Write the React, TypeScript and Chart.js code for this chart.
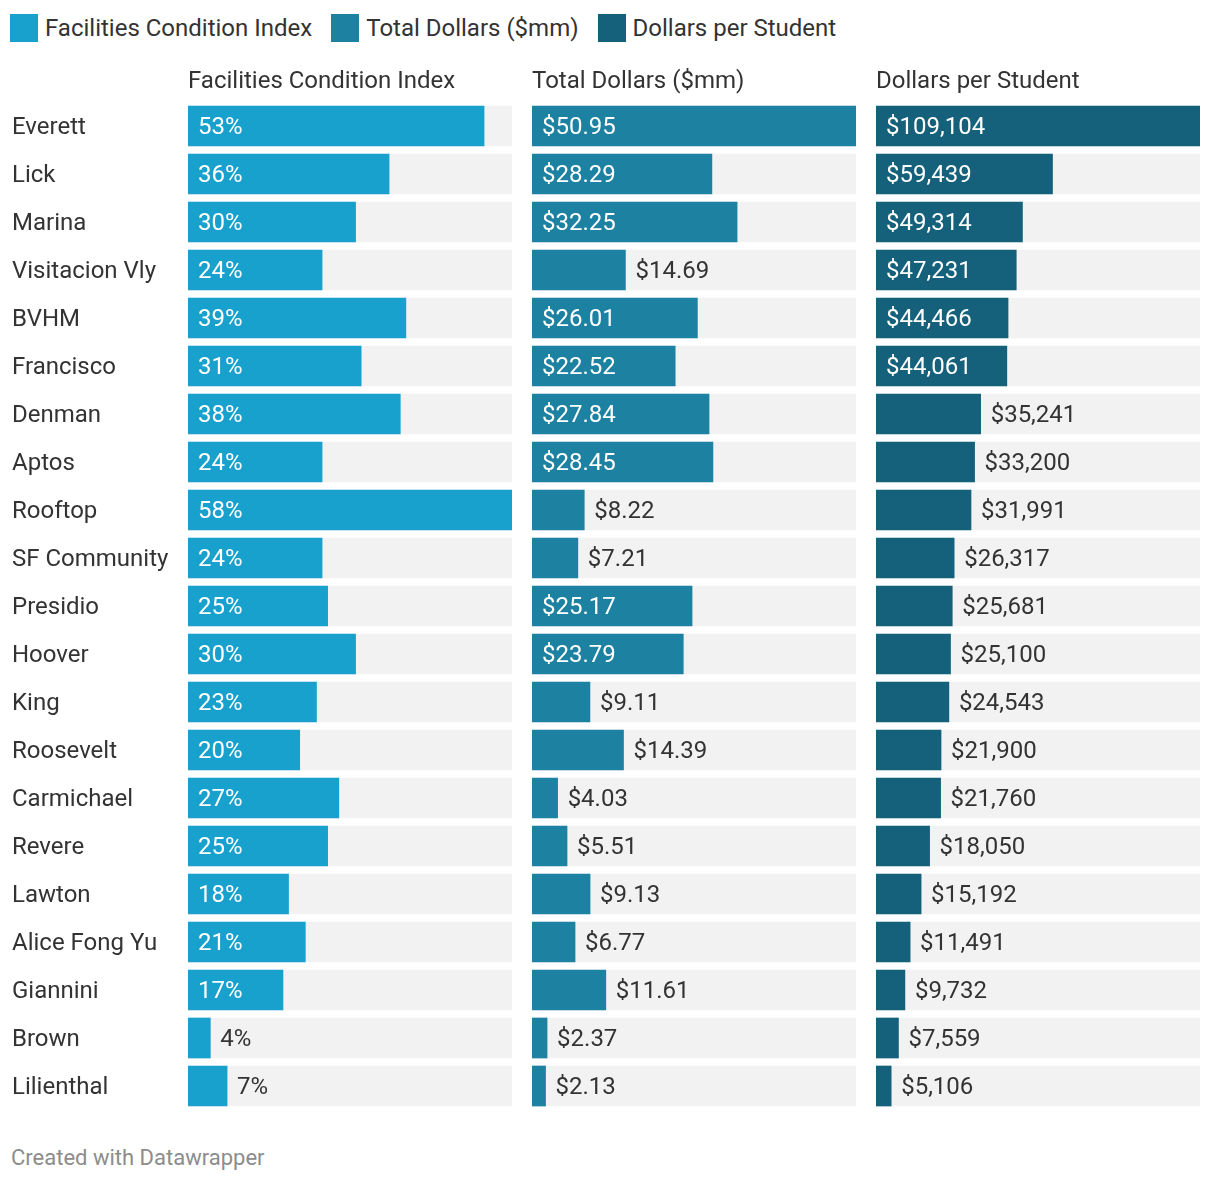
import React, { useEffect, useRef } from "react";
import { Chart, registerables } from "chart.js";

Chart.register(...registerables);

const categories = [
  "Everett", "Lick", "Marina", "Visitacion Vly", "BVHM", "Francisco", "Denman",
  "Aptos", "Rooftop", "SF Community", "Presidio", "Hoover", "King", "Roosevelt",
  "Carmichael", "Revere", "Lawton", "Alice Fong Yu", "Giannini", "Brown", "Lilienthal",
];

const fciValues = [53, 36, 30, 24, 39, 31, 38, 24, 58, 24, 25, 30, 23, 20, 27, 25, 18, 21, 17, 4, 7];

const totalDollars = [
  50.95, 28.29, 32.25, 14.69, 26.01, 22.52, 27.84, 28.45, 8.22, 7.21, 25.17,
  23.79, 9.11, 14.39, 4.03, 5.51, 9.13, 6.77, 11.61, 2.37, 2.13,
];

const dollarsPerStudent = [
  109104, 59439, 49314, 47231, 44466, 44061, 35241, 33200, 31991, 26317, 25681,
  25100, 24543, 21900, 21760, 18050, 15192, 11491, 9732, 7559, 5106,
];

const seriesNames = ["Facilities Condition Index", "Total Dollars ($mm)", "Dollars per Student"];
const seriesColors = ["#18a1cd", "#1d81a2", "#15607a"];
const TRACK = "#f2f2f2";
const TEXT = "#333333";
const FONT_FAMILY = "Roboto";
const FONT_SIZE = 24;

const formatters: ((v: number) => string)[] = [
  (v) => `${v}%`,
  (v) => `$${v.toFixed(2)}`,
  (v) => `$${v.toLocaleString("en-US")}`,
];

const columnData = [fciValues, totalDollars, dollarsPerStudent];

const valueLabelPlugin = {
  id: "valueLabels",
  afterDatasetsDraw(chart: any, _args: any, opts: any) {
    const ctx = chart.ctx;
    const meta = chart.getDatasetMeta(0);
    const data: number[] = chart.data.datasets[0].data;
    const fmt: (v: number) => string = opts.formatter;
    ctx.save();
    ctx.font = `${FONT_SIZE}px ${FONT_FAMILY}`;
    ctx.textBaseline = "middle";
    ctx.textAlign = "left";
    const labels = data.map((v) => fmt(v));
    const widest = Math.max(...labels.map((l) => ctx.measureText(l).width));
    meta.data.forEach((el: any, i: number) => {
      const w = el.x - el.base;
      const inside = w >= widest + 25;
      ctx.fillStyle = inside ? "#ffffff" : TEXT;
      const x = inside ? el.base + 10 : el.x + 10;
      ctx.fillText(labels[i], x, el.y + 1.5);
    });
    ctx.restore();
  },
};

function Column({ idx, showY, width }: { idx: number; showY: boolean; width: number }) {
  const ref = useRef<HTMLCanvasElement | null>(null);
  useEffect(() => {
    if (!ref.current) return;
    const values = columnData[idx];
    const maxV = Math.max(...values);
    const chart = new Chart(ref.current, {
      type: "bar",
      data: {
        labels: categories,
        datasets: [
          {
            label: seriesNames[idx],
            data: values,
            backgroundColor: seriesColors[idx],
            barThickness: 40,
            grouped: false,
            order: 0,
            borderWidth: 0,
          } as any,
          {
            label: "track",
            data: values.map(() => maxV),
            backgroundColor: TRACK,
            barThickness: 40,
            grouped: false,
            order: 1,
            borderWidth: 0,
          } as any,
        ],
      },
      options: {
        indexAxis: "y",
        animation: false,
        responsive: false,
        devicePixelRatio: 1,
        layout: { padding: { top: 7.6, bottom: 20, left: showY ? 12 : 0, right: 0 } },
        scales: {
          x: {
            position: "top",
            min: 0,
            max: maxV,
            ticks: { display: false },
            grid: { display: false, drawTicks: false },
            border: { display: false },
            title: {
              display: true,
              text: seriesNames[idx],
              align: "start",
              color: TEXT,
              font: { family: FONT_FAMILY, size: FONT_SIZE },
              padding: { top: 0, bottom: 5.6 },
            },
          },
          y: {
            display: showY,
            ticks: {
              crossAlign: "far",
              padding: 0,
              labelOffset: 1.5,
              color: TEXT,
              font: { family: FONT_FAMILY, size: FONT_SIZE },
            },
            grid: { display: false, drawTicks: false },
            border: { display: false },
            afterFit: (scale: any) => {
              if (showY) scale.width = 176;
            },
          } as any,
        },
        plugins: {
          legend: { display: false },
          tooltip: { enabled: false },
          valueLabels: { formatter: formatters[idx] },
        } as any,
      },
      plugins: [valueLabelPlugin],
    });
    return () => chart.destroy();
  }, [idx, showY]);
  return <canvas ref={ref} width={width} height={1070} style={{ display: "block", width, height: 1070 }} />;
}

export default function App() {
  useEffect(() => {
    document.body.style.margin = "0";
  }, []);
  return (
    <div
      style={{
        position: "absolute",
        left: 0,
        top: 0,
        width: 1220,
        height: 1184,
        background: "#ffffff",
        fontFamily: FONT_FAMILY,
        color: TEXT,
        overflow: "hidden",
      }}
    >
      <div style={{ position: "absolute", left: 10, top: 14, display: "flex", alignItems: "center" }}>
        {seriesNames.map((n, i) => (
          <div key={n} style={{ display: "flex", alignItems: "center", marginRight: 19 }}>
            <div style={{ width: 28, height: 28, background: seriesColors[i], marginRight: 7 }} />
            <span style={{ fontSize: FONT_SIZE, lineHeight: "28px", whiteSpace: "nowrap" }}>{n}</span>
          </div>
        ))}
      </div>
      <div style={{ position: "absolute", left: 0, top: 60 }}>
        <Column idx={0} showY={true} width={512} />
      </div>
      <div style={{ position: "absolute", left: 532, top: 60 }}>
        <Column idx={1} showY={false} width={324} />
      </div>
      <div style={{ position: "absolute", left: 876, top: 60 }}>
        <Column idx={2} showY={false} width={324} />
      </div>
      <div
        style={{
          position: "absolute",
          left: 11,
          top: 1145,
          fontSize: 22,
          lineHeight: "26px",
          color: "#8c8c8c",
          whiteSpace: "nowrap",
        }}
      >
        Created with Datawrapper
      </div>
    </div>
  );
}
